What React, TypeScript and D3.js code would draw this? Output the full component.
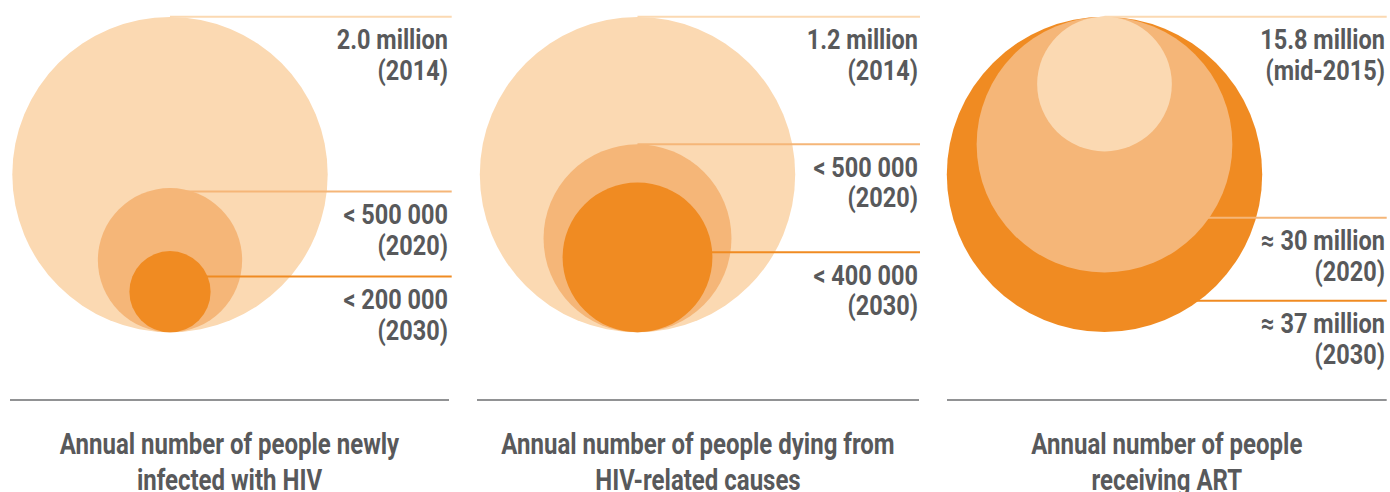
import React from "react";
import * as d3 from "d3";

// ---- Data ----
const panelTitles: string[][] = [
  ["Annual number of people newly", "infected with HIV"],
  ["Annual number of people dying from", "HIV-related causes"],
  ["Annual number of people", "receiving ART"],
];

// labels (value line, period line), ordered from first drawn (largest circle) to last
const newInfectionLabels = ["2.0 million", "< 500 000", "< 200 000"];
const newInfectionPeriods = ["(2014)", "(2020)", "(2030)"];
// circle sizes as depicted (millions, radius-proportional)
const newInfectionSizes = [2.0, 0.915, 0.515];

const deathLabels = ["1.2 million", "< 500 000", "< 400 000"];
const deathPeriods = ["(2014)", "(2020)", "(2030)"];
const deathSizes = [1.2, 0.715, 0.57];

const artLabels = ["\u2248 37 million", "\u2248 30 million", "15.8 million"];
const artPeriods = ["(2030)", "(2020)", "(mid-2015)"];
const artSizes = [37, 30, 15.8];

// ---- Layout / style ----
const W = 1390;
const H = 492;
const MAX_R = 157.7;
const TEXT = "#58595b";
const FONT = "Roboto, 'DejaVu Sans Condensed', sans-serif";
const SX = 0.84;
const SX_TITLE = 0.8;

type Layout = {
  cx: number;
  anchor: "bottom" | "top";
  edge: number;
  lineRight: number;
  textRight: number;
  ruleX: [number, number];
  lineYs: number[];
  colors: string[];
};

const LIGHT = "#fbd9b2";
const MID = "#f5b678";
const DARK = "#f08b22";

const layouts: Layout[] = [
  { cx: 170, anchor: "bottom", edge: 332.3, lineRight: 451.7, textRight: 448, ruleX: [10, 449], lineYs: [16.7, 191.5, 276.5], colors: [LIGHT, MID, DARK] },
  { cx: 637.5, anchor: "bottom", edge: 332.3, lineRight: 920, textRight: 918, ruleX: [477, 919], lineYs: [16.7, 144.3, 252.3], colors: [LIGHT, MID, DARK] },
  { cx: 1104.5, anchor: "top", edge: 16.7, lineRight: 1386.7, textRight: 1385, ruleX: [947, 1386.7], lineYs: [300.7, 217.8, 16.7], colors: [DARK, MID, LIGHT] },
];

const panels = [
  { sizes: newInfectionSizes, labels: newInfectionLabels, periods: newInfectionPeriods, title: panelTitles[0] },
  { sizes: deathSizes, labels: deathLabels, periods: deathPeriods, title: panelTitles[1] },
  { sizes: artSizes, labels: artLabels, periods: artPeriods, title: panelTitles[2] },
];

export default function App() {
  return (
    <svg width={W} height={H} style={{ position: "absolute", left: 0, top: 0, background: "#fff" }}>
      {panels.map((p, pi) => {
        const L = layouts[pi];
        const r = d3.scaleLinear().domain([0, d3.max(p.sizes) as number]).range([0, MAX_R]);
        const midX = (L.ruleX[0] + L.ruleX[1]) / 2;
        return (
          <g key={pi}>
            {p.sizes.map((v, i) => {
              const rad = r(v);
              const cy = L.anchor === "bottom" ? L.edge - rad : L.edge + rad;
              const ly = L.lineYs[i];
              return (
                <g key={i}>
                  <line x1={L.cx} x2={L.lineRight} y1={ly} y2={ly} stroke={L.colors[i]} strokeWidth={2} />
                  <circle cx={L.cx} cy={cy} r={rad} fill={L.colors[i]} />
                </g>
              );
            })}
            {p.sizes.map((_, i) => {
              const ly = L.lineYs[i];
              return (
                <text key={"t" + i} transform={`translate(${L.textRight},0) scale(${SX},1)`} textAnchor="end" fill={TEXT} fontFamily={FONT} fontWeight="bold" fontSize={28}>
                  <tspan x={0} y={ly + 32.6}>{p.labels[i]}</tspan>
                  <tspan x={0} y={ly + 63.2}>{p.periods[i]}</tspan>
                </text>
              );
            })}
            <line x1={L.ruleX[0]} x2={L.ruleX[1]} y1={400} y2={400} stroke="#6d6e70" strokeWidth={1.5} />
            <text transform={`translate(${midX},0) scale(${SX_TITLE},1)`} textAnchor="middle" fill={TEXT} fontFamily={FONT} fontWeight="bold" fontSize={30}>
              {p.title.map((t, ti) => (
                <tspan key={ti} x={0} y={454.3 + ti * 35.7}>{t}</tspan>
              ))}
            </text>
          </g>
        );
      })}
    </svg>
  );
}
